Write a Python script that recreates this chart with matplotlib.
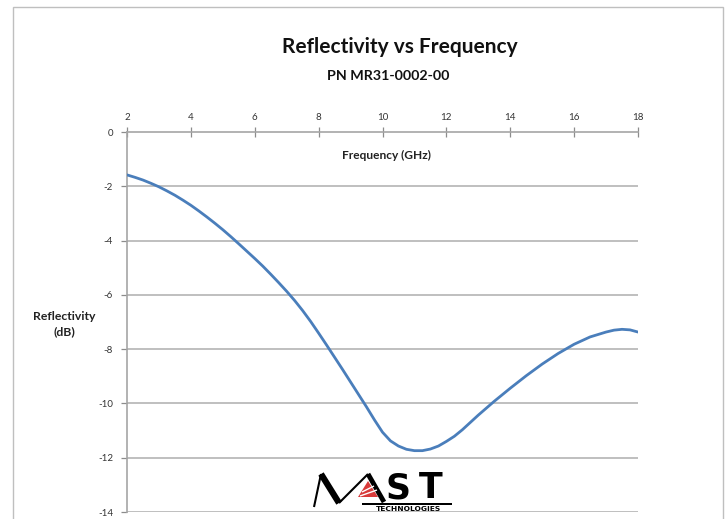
import matplotlib
matplotlib.use("Agg")
import matplotlib.pyplot as plt
from matplotlib.patches import Rectangle, Polygon
from matplotlib.lines import Line2D

# Reflectivity curve (dB) versus frequency (GHz)
freq_ghz = [2.0, 2.25, 2.5, 2.75, 3.0, 3.25, 3.5, 3.75, 4.0, 4.25, 4.5, 4.75,
            5.0, 5.25, 5.5, 5.75, 6.0, 6.25, 6.5, 6.75, 7.0, 7.25, 7.5, 7.75,
            8.0, 8.25, 8.5, 8.75, 9.0, 9.5, 9.75, 10.0, 10.25, 10.5, 10.75,
            11.0, 11.25, 11.5, 11.75, 12.0, 12.25, 12.5, 12.75, 13.0, 13.5,
            14.0, 14.5, 15.0, 15.5, 16.0, 16.5, 17.0, 17.25, 17.5, 17.75,
            18.0]
reflectivity_db = [-1.58, -1.67, -1.77, -1.89, -2.02, -2.17, -2.33, -2.51,
                   -2.70, -2.91, -3.13, -3.36, -3.60, -3.855, -4.12, -4.39,
                   -4.66, -4.94, -5.24, -5.55, -5.87, -6.21, -6.58, -6.98,
                   -7.41, -7.85, -8.30, -8.75, -9.21, -10.13, -10.61, -11.06,
                   -11.38, -11.57, -11.69, -11.74, -11.74, -11.68, -11.57,
                   -11.40, -11.21, -10.97, -10.70, -10.43, -9.92, -9.44,
                   -8.98, -8.55, -8.16, -7.82, -7.55, -7.37, -7.30, -7.27,
                   -7.29, -7.37]

x_ticks = [2, 4, 6, 8, 10, 12, 14, 16, 18]
y_ticks = [0, -2, -4, -6, -8, -10, -12, -14]

title = "Reflectivity vs Frequency"
subtitle = "PN MR31-0002-00"
x_label = "Frequency (GHz)"
y_label = "Reflectivity\n(dB)"

plt.rcParams["font.family"] = ["Lato", "DejaVu Sans"]

W, H = 727, 519
fig = plt.figure(figsize=(W / 100, H / 100), dpi=100)


def fx(px):
    return px / W


def fy(py):
    return 1 - py / H


def stroke(points, lw, color="black"):
    fig.add_artist(Line2D([fx(p[0]) for p in points],
                          [fy(p[1]) for p in points],
                          transform=fig.transFigure, color=color,
                          linewidth=lw, solid_capstyle="butt",
                          solid_joinstyle="miter", zorder=5))


# chart-area frame
fig.patches.append(Rectangle((fx(13), -0.05), fx(723) - fx(13), fy(7) + 0.05,
                             transform=fig.transFigure, fill=False,
                             edgecolor="#bfbfbf", linewidth=1.0))

ax = fig.add_axes([fx(127), fy(512), fx(638) - fx(127), fy(132) - fy(512)])
ax.set_xlim(2, 18)
ax.set_ylim(-14, 0)

grid_color = "#b4b4b4"
for yv in y_ticks[1:]:
    ax.axhline(yv, color=grid_color, linewidth=1.2, zorder=1)

ax.plot(freq_ghz, reflectivity_db, color="#4a7ebb", linewidth=2.0,
        solid_joinstyle="round", solid_capstyle="round", zorder=3)

for side in ["right", "bottom"]:
    ax.spines[side].set_visible(False)
for side in ["top", "left"]:
    ax.spines[side].set_color("#a6a6a6")
    ax.spines[side].set_linewidth(1.2)

ax.xaxis.tick_top()
ax.set_xticks(x_ticks)
ax.set_xticklabels([str(v) for v in x_ticks])
ax.tick_params(axis="x", direction="inout", length=7, width=0.9,
               color="#8c8c8c", labelsize=7, labelcolor="#333333", pad=4)
ax.set_yticks(y_ticks)
ax.set_yticklabels([str(v) for v in y_ticks])
ax.tick_params(axis="y", direction="out", length=4, width=0.9,
               color="#8c8c8c", labelsize=7, labelcolor="#333333", pad=6)

fig.text(fx(386), fy(155), x_label, ha="center", va="center",
         fontsize=8.6, fontweight="bold", color="#222222")
fig.text(fx(64), fy(324), y_label, ha="center", va="center",
         fontsize=8.8, fontweight="bold", color="#222222", linespacing=1.45)

fig.text(fx(400), fy(47), title, ha="center", va="center",
         fontsize=15, fontweight="bold", color="#111111")
fig.text(fx(388), fy(76), subtitle, ha="center", va="center",
         fontsize=10.3, fontweight="bold", color="#111111")

# company logo at the foot of the plot
logo_font = "DejaVu Sans"
stroke([(314, 507), (321, 474)], 1.5)
stroke([(321, 474), (339, 503)], 4.5)
stroke([(339, 503), (368, 474)], 1.5)
stroke([(368, 474), (384, 502)], 3.5)
fig.patches.append(Polygon([[fx(368), fy(481)], [fx(358), fy(497)],
                            [fx(378), fy(497)]], closed=True,
                           transform=fig.transFigure, facecolor="#d83a3a",
                           edgecolor="none", zorder=4))
stroke([(362, 492), (374, 486)], 1.0, "white")
stroke([(360, 496), (377, 490)], 1.0, "white")
for letter, cx in [("S", 398), ("T", 431)]:
    fig.text(fx(cx), fy(488.5), letter, ha="center", va="center",
             fontsize=25, fontweight="bold", color="black", family=logo_font)
fig.patches.append(Rectangle((fx(362), fy(504.5)), fx(452) - fx(362),
                             1.8 / H, transform=fig.transFigure,
                             facecolor="black"))
fig.text(fx(408), fy(509.0), "TECHNOLOGIES", ha="center", va="center",
         fontsize=5.4, fontweight="bold", color="black", family=logo_font)

fig.savefig("out.png", dpi=100)
